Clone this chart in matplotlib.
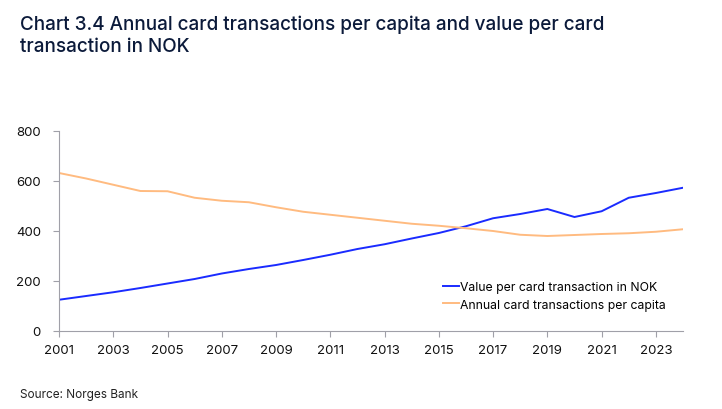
import matplotlib as mpl
mpl.use('Agg')
import matplotlib.pyplot as plt

plt.rcParams['font.family'] = ['Inter', 'DejaVu Sans']

years = list(range(2001, 2025))
value_per_txn = [125, 140, 155, 172, 190, 208, 230, 248, 264, 284, 305, 328,
                 347, 370, 392, 419, 451, 468, 488, 456, 479, 533, 552, 573]
txn_per_capita = [632, 610, 585, 560, 559, 533, 521, 515, 495, 477, 465, 453,
                  441, 429, 421, 411, 400, 385, 380, 384, 388, 391, 397, 407]

title = "Chart 3.4 Annual card transactions per capita and value per card\ntransaction in NOK"
source = "Source: Norges Bank"

fig = plt.figure(figsize=(7.22, 4.10), dpi=100)
ax = fig.add_axes([59 / 722, 1 - 332 / 410, (683 - 59) / 722, 200 / 410])

ax.plot(years, value_per_txn, color='#1a2bff', lw=1.4, label='Value per card transaction in NOK')
ax.plot(years, txn_per_capita, color='#ffbb80', lw=1.4, label='Annual card transactions per capita')

ax.set_xlim(2001, 2024)
ax.set_ylim(0, 800)
ax.set_xticks(range(2001, 2024, 2))
ax.set_yticks(range(0, 801, 200))
for s in ['top', 'right']:
    ax.spines[s].set_visible(False)
for s in ['left', 'bottom']:
    ax.spines[s].set_color('#a0a0a8')
    ax.spines[s].set_linewidth(0.8)
ax.tick_params(colors='#a0a0a8', labelcolor='#111111', labelsize=9.5, length=4, width=0.8)
ax.tick_params(axis='x', pad=5)
ax.tick_params(axis='y', pad=9)

ax.legend(loc='upper left', bbox_to_anchor=(0.605, 0.28), frameon=False, fontsize=8.8,
          handlelength=1.3, handletextpad=0.1, labelspacing=0.45, borderpad=0)

fig.text(20 / 722, 1 - 36 / 410, title, fontsize=13.6, color='#0b1a3a', va='center',
         linespacing=1.25, fontweight='medium')
fig.text(20 / 722, 1 - 395 / 410, source, fontsize=8.5, color='#222222', va='center')

fig.savefig('out.png', dpi=100)
